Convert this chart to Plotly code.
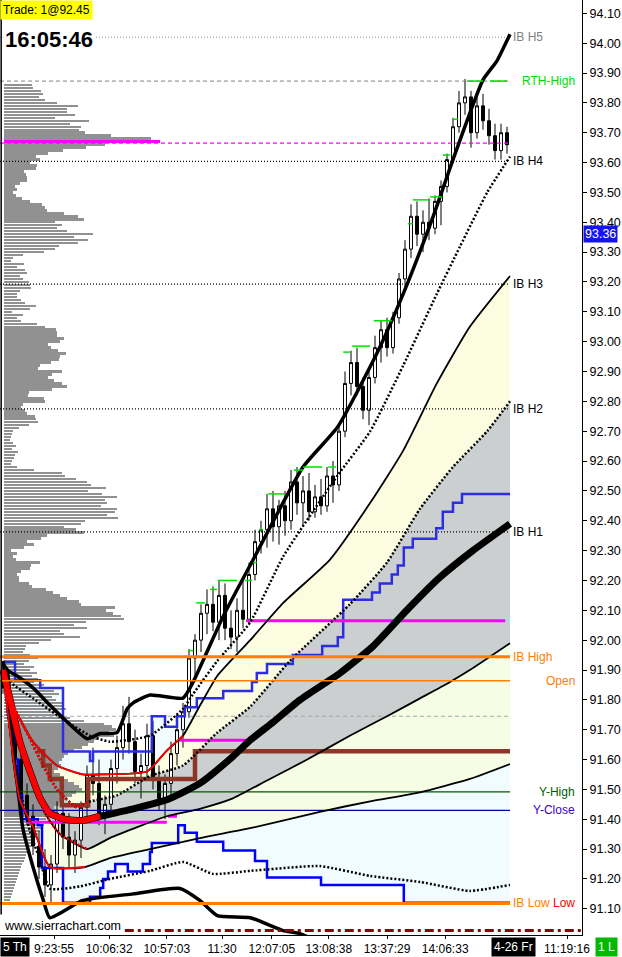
import plotly.graph_objects as go

#%% Candles (each candle = 2 chart bars), oldest first

OPEN = [91.90, 91.84, 91.74, 91.60, 91.48, 91.41, 91.31, 91.24, 91.18, 91.25,
        91.42, 91.34, 91.28, 91.33, 91.44, 91.55, 91.52, 91.42, 91.45, 91.57,
        91.64, 91.72, 91.66, 91.56, 91.58, 91.68, 91.53, 91.47, 91.52, 91.62,
        91.70, 91.76, 91.94, 92.00, 92.09, 92.12, 92.06, 92.15, 92.04, 92.01,
        92.10, 92.07, 92.22, 92.33, 92.37, 92.44, 92.38, 92.45, 92.40, 92.53,
        92.46, 92.50, 92.43, 92.48, 92.45, 92.55, 92.52, 92.70, 92.86, 92.93,
        92.85, 92.77, 92.88, 92.98, 93.04, 92.98, 93.08, 93.21, 93.31, 93.42,
        93.36, 93.40, 93.38, 93.47, 93.52, 93.61, 93.72, 93.80, 93.82, 93.70,
        93.79, 93.74, 93.69, 93.64, 93.70]
HIGH = [91.93, 91.86, 91.76, 91.63, 91.52, 91.45, 91.36, 91.30, 91.28, 91.46,
        91.50, 91.42, 91.36, 91.46, 91.58, 91.64, 91.60, 91.48, 91.60, 91.68,
        91.78, 91.81, 91.70, 91.62, 91.72, 91.73, 91.58, 91.55, 91.66, 91.74,
        91.79, 91.97, 92.02, 92.12, 92.17, 92.18, 92.20, 92.19, 92.10, 92.14,
        92.20, 92.26, 92.37, 92.40, 92.49, 92.50, 92.47, 92.50, 92.57, 92.58,
        92.55, 92.56, 92.52, 92.54, 92.58, 92.60, 92.72, 92.90, 92.97, 92.98,
        92.88, 92.90, 93.02, 93.07, 93.08, 93.10, 93.23, 93.34, 93.46, 93.47,
        93.44, 93.48, 93.49, 93.54, 93.63, 93.75, 93.84, 93.88, 93.84, 93.83,
        93.83, 93.78, 93.73, 93.73, 93.72]
LOW = [91.82, 91.72, 91.58, 91.46, 91.38, 91.28, 91.20, 91.14, 91.12, 91.22,
       91.30, 91.24, 91.22, 91.27, 91.40, 91.48, 91.38, 91.35, 91.42, 91.52,
       91.60, 91.62, 91.52, 91.47, 91.54, 91.50, 91.43, 91.40, 91.48, 91.58,
       91.64, 91.74, 91.86, 91.96, 92.02, 92.03, 92.00, 92.00, 91.97, 91.96,
       92.04, 92.05, 92.20, 92.29, 92.31, 92.33, 92.32, 92.35, 92.37, 92.42,
       92.38, 92.40, 92.41, 92.42, 92.43, 92.46, 92.50, 92.68, 92.82, 92.82,
       92.74, 92.72, 92.86, 92.93, 92.95, 92.96, 93.06, 93.18, 93.28, 93.32,
       93.30, 93.34, 93.36, 93.39, 93.50, 93.60, 93.70, 93.76, 93.65, 93.68,
       93.71, 93.66, 93.61, 93.61, 93.63]
CLOSE = [91.84, 91.74, 91.60, 91.48, 91.41, 91.31, 91.24, 91.18, 91.25, 91.42,
         91.34, 91.28, 91.33, 91.44, 91.55, 91.52, 91.42, 91.45, 91.57, 91.64,
         91.72, 91.66, 91.56, 91.58, 91.68, 91.53, 91.47, 91.52, 91.62, 91.70,
         91.76, 91.94, 92.00, 92.09, 92.12, 92.06, 92.15, 92.04, 92.01, 92.10,
         92.07, 92.22, 92.33, 92.37, 92.44, 92.38, 92.45, 92.40, 92.53, 92.46,
         92.50, 92.43, 92.48, 92.45, 92.55, 92.52, 92.70, 92.86, 92.93, 92.85,
         92.77, 92.88, 92.98, 93.04, 92.98, 93.08, 93.21, 93.31, 93.42, 93.36,
         93.40, 93.38, 93.47, 93.52, 93.61, 93.72, 93.80, 93.82, 93.70, 93.79,
         93.74, 93.69, 93.64, 93.70, 93.66]

#%% VWAP and std-dev bands (x in candle units)

V_X = [0.5, 1.7, 3.3, 5.0, 6.7, 8.3, 10.8, 13.8, 16.7, 22.2, 27.8, 33.3, 38.8, 41.7, 45.5,
       50.0, 56.7, 62.2, 67.8, 73.3, 78.8, 85.0]
V_Y = [91.90, 91.80, 91.66, 91.56, 91.47, 91.42, 91.40, 91.396, 91.41, 91.435, 91.465, 91.52,
       91.61, 91.665, 91.725, 91.80, 91.89, 91.98, 92.10, 92.21, 92.30, 92.39]

U1_X = [0.5, 2.2, 4.5, 7.2, 9.5, 12.8, 14.5, 19.5, 25.0, 30.5, 36.2, 41.7, 48.3, 58.3, 64.5,
        70.0, 75.5, 81.2, 85.0]
U1_Y = [91.90, 91.78, 91.69, 91.58, 91.50, 91.44, 91.457, 91.48, 91.545, 91.58, 91.69, 91.777,
        91.93, 92.12, 92.26, 92.44, 92.58, 92.70, 92.80]

U2_X = [0.5, 1.7, 5.5, 9.5, 13.8, 16.7, 24.5, 27.8, 30.5, 33.3, 36.2, 41.7, 47.2, 55.0, 61.7,
        67.2, 72.8, 78.3, 85.0]
U2_Y = [91.90, 91.80, 91.66, 91.58, 91.55, 91.55, 91.56, 91.63, 91.68, 91.78, 91.88, 92.00,
        92.125, 92.27, 92.46, 92.635, 92.86, 93.05, 93.22]

U3_X = [0.5, 1.7, 5.5, 11.2, 15.0, 18.3, 25.0, 30.5, 32.2, 36.2, 41.7, 47.2, 56.2, 61.7, 67.2,
        72.8, 76.7, 81.2, 85.0]
U3_Y = [91.91, 91.86, 91.805, 91.726, 91.68, 91.66, 91.68, 91.77, 91.82, 91.93, 92.06, 92.28,
        92.55, 92.70, 92.92, 93.16, 93.32, 93.50, 93.62]

U4_X = [0.5, 0.8, 3.3, 5.5, 8.3, 11.2, 14.5, 16.7, 19.5, 21.2, 22.2, 25.0, 30.5, 32.2, 37.2,
        42.2, 50.5, 56.3, 62.8, 67.2, 72.2, 75.5, 80.5, 82.8, 85.0]
U4_Y = [91.93, 91.906, 91.874, 91.84, 91.783, 91.726, 91.67, 91.687, 91.69, 91.77, 91.79,
        91.816, 91.806, 91.86, 92.08, 92.27, 92.58, 92.715, 92.96, 93.16, 93.42, 93.61, 93.877,
        93.94, 94.03]

L1_X = [0.5, 2.5, 5.0, 7.5, 10.0, 14.5, 18.3, 27.8, 33.3, 38.8, 44.5, 51.2, 58.3, 64.5, 70.0,
        75.0, 78.3, 85.0]
L1_Y = [91.90, 91.70, 91.55, 91.42, 91.35, 91.30, 91.337, 91.41, 91.435, 91.47, 91.53, 91.60,
        91.68, 91.745, 91.805, 91.86, 91.90, 91.99]

L2_X = [0.5, 3.3, 5.5, 8.3, 14.2, 18.3, 25.0, 33.3, 41.7, 53.3, 61.7, 70.0, 78.3, 85.0]
L2_Y = [91.90, 91.465, 91.375, 91.24, 91.24, 91.27, 91.30, 91.337, 91.37, 91.425, 91.46, 91.49,
        91.535, 91.585]

L3_X = [0.5, 1.7, 3.3, 5.0, 6.7, 8.3, 13.3, 18.3, 25.0, 30.5, 35.5, 41.7, 53.3, 61.7, 70.0,
        78.3, 85.0]
L3_Y = [91.90, 91.70, 91.50, 91.36, 91.26, 91.168, 91.175, 91.20, 91.227, 91.257, 91.217,
        91.227, 91.243, 91.21, 91.19, 91.16, 91.18]

L4_X = [0.5, 1.2, 1.7, 2.2, 3.0, 3.8, 5.5, 7.2, 8.3, 13.8, 22.2, 30.0, 33.3, 36.2, 41.7, 47.2,
        50.0, 55.0, 60.0]
L4_Y = [91.92, 91.90, 91.78, 91.62, 91.50, 91.37, 91.24, 91.13, 91.07, 91.128, 91.15, 91.168,
        91.128, 91.077, 91.07, 91.027, 91.017, 90.97, 90.92]

#%% Stepped lines

UB_X = [0.5, 2.5, 6.7, 10.5, 15.0, 15.5, 25.3, 27.5, 29.5, 30.8, 32.8, 37.2, 42.0, 42.8, 44.5,
        48.8, 53.7, 56.3, 57.2, 62.0, 63.3, 65.3, 66.3, 67.3, 68.8, 72.7, 73.8, 75.5, 77.0, 85.0]
UB_Y = [91.927, 91.866, 91.84, 91.627, 91.595, 91.627, 91.745, 91.71, 91.745, 91.775, 91.805,
        91.83, 91.86, 91.89, 91.92, 91.95, 91.98, 92.01, 92.135, 92.16, 92.19, 92.22, 92.25,
        92.31, 92.34, 92.375, 92.43, 92.46, 92.49, 92.49]

LB_X = [0.5, 1.3, 2.2, 3.0, 3.7, 6.3, 7.0, 10.5, 15.0, 16.7, 17.2, 18.0, 19.2, 21.3, 23.8, 25.0,
        25.3, 29.7, 30.8, 32.8, 37.2, 42.5, 44.5, 53.5, 67.3, 85.0]
LB_Y = [91.90, 91.75, 91.60, 91.48, 91.40, 91.38, 91.237, 91.12, 91.14, 91.17, 91.20, 91.225,
        91.25, 91.225, 91.25, 91.29, 91.32, 91.38, 91.355, 91.325, 91.295, 91.26, 91.205, 91.18,
        91.12, 91.12]

BROWN_X = [6.2, 7.2, 8.3, 10.3, 14.7, 32.5, 85.0]
BROWN_Y = [91.628, 91.58, 91.535, 91.447, 91.535, 91.628, 91.628]

# developing POC segments: (start, end, price)
MAGENTA_SEGS = [(4.5, 27.8, 91.39), (28.0, 29.5, 91.41), (29.7, 41.0, 91.665), (41.0, 84.2, 92.065)]

# new-high markers: (start, end, price)
NEW_HIGHS = [(31.5, 32.2, 91.965), (32.7, 34.2, 92.125), (35.0, 36.2, 92.17), (36.3, 39.5, 92.20),
             (40.8, 42.0, 92.20), (42.2, 42.8, 92.26), (43.2, 43.8, 92.37), (44.7, 47.5, 92.49),
             (49.0, 50.5, 92.57), (50.5, 53.7, 92.58), (54.7, 56.0, 92.58), (57.2, 58.3, 92.965),
             (58.7, 61.7, 92.985), (62.3, 65.3, 93.07), (68.0, 68.8, 93.395), (68.8, 71.7, 93.475),
             (71.7, 73.7, 93.485), (73.8, 75.0, 93.625), (75.5, 76.3, 93.745), (77.8, 80.5, 93.873),
             (81.7, 84.5, 93.873)]

#%% Key levels

LEVEL_NAMES = ["IB H5", "RTH-High", "POC", "IB H4", "IB H3", "IB H2", "IB H1",
               "IB High", "Open", "Mid", "Y-High", "Y-Close", "IB Low"]
LEVEL_PRICES = [94.02, 93.873, 93.665, 93.604, 93.193, 92.775, 92.363,
                91.944, 91.864, 91.745, 91.492, 91.430, 91.118]

#%% Volume profile (top row 93.86, one row per tick)

PROFILE_TOP = 93.86
PROFILE_TICK = 0.01
PROFILE_VOL = [
    28, 29, 37, 39, 35, 41, 53, 74, 63, 63, 71, 51, 85, 66, 77, 75, 81, 107, 147, 156,
    101, 82, 59, 44, 32, 36, 26, 33, 32, 20, 22, 23, 23, 16, 11, 13, 9, 12, 18, 26,
    38, 41, 43, 60, 74, 80, 51, 58, 53, 63, 89, 70, 84, 74, 55, 51, 40, 19, 9, 7,
    20, 13, 21, 23, 16, 19, 25, 26, 27, 16, 13, 13, 17, 21, 32, 26, 8, 19, 13, 17,
    33, 41, 52, 53, 53, 60, 56, 44, 47, 54, 62, 56, 55, 47, 36, 34, 58, 48, 44,
    50, 58, 63, 48, 25, 24, 40, 41, 19, 17, 21, 23, 31, 32, 34, 25, 15, 9, 8, 7,
    6, 9, 12, 8, 14, 11, 10, 8, 7, 13, 30, 58, 61, 72, 83, 87, 102, 84, 98, 113,
    101, 103, 97, 113, 111, 103, 114, 81, 77, 60, 72, 80, 43, 37, 23, 30, 20, 7, 13, 9,
    12, 36, 27, 26, 17, 13, 15, 15, 25, 28, 42, 49, 56, 63, 75, 77, 111, 102, 109, 117,
    120, 82, 70, 83, 56, 60, 76, 47, 35, 22, 21, 19, 26, 34, 25, 20,
    30, 26, 33, 28, 34, 30, 40, 45, 50, 55, 48, 52, 60, 58, 62, 55, 60, 66, 80, 100,
    108, 112, 105, 110, 95, 90, 84, 78, 70, 64, 60, 58, 55, 57, 54, 50, 56, 60, 64, 70,
    75, 78, 72, 68, 62, 58, 55, 50, 52, 48, 45, 42, 44, 40, 38, 36, 34, 32, 30, 28,
    27, 25, 24, 22, 21, 20, 18, 17, 16, 15, 14, 13, 12, 11, 10, 9, 8, 7, 6, 5]
POC_ROW = 19

TIME_TICKS = [9.0, 18.2, 27.8, 37.0, 45.3, 54.8, 64.5, 74.2, 94.5]
TIME_LABELS = ["9:23:55", "10:06:32", "10:57:03", "11:30", "12:07:05",
               "13:08:38", "13:37:29", "14:06:33", "11:19:16"]

Y_MIN, Y_MAX = 91.0122, 94.1446
FONT = "Liberation Sans"

fig = go.Figure()


def add_fill(xa, ya, xb, yb, color, shape="spline"):
    fig.add_trace(go.Scatter(x=xa, y=ya, mode="lines",
                             line=dict(width=0, shape=shape, smoothing=0.5),
                             xaxis="x", yaxis="y", hoverinfo="skip", showlegend=False))
    fig.add_trace(go.Scatter(x=xb, y=yb, mode="lines",
                             line=dict(width=0, shape=shape, smoothing=0.5),
                             fill="tonexty", fillcolor=color, xaxis="x", yaxis="y",
                             hoverinfo="skip", showlegend=False))


def add_line(xs, ys, color, width, dash="solid", shape="spline"):
    fig.add_trace(go.Scatter(x=xs, y=ys, mode="lines",
                             line=dict(color=color, width=width, dash=dash, shape=shape,
                                       smoothing=0.5),
                             xaxis="x3", yaxis="y", hoverinfo="skip", showlegend=False,
                             connectgaps=False))


def seg_xy(segs):
    xs, ys = [], []
    for x0, x1, p in segs:
        xs += [x0, x1, None]
        ys += [p, p, None]
    return xs, ys


#%% fills (bottom layer, axis x)
add_fill(UB_X, UB_Y, LB_X, LB_Y, "rgb(240,252,255)", shape="hv")
add_fill(U2_X, U2_Y, U1_X, U1_Y, "rgb(252,252,224)")
add_fill(U1_X, U1_Y, L1_X, L1_Y, "rgb(203,207,207)")
add_fill(L1_X, L1_Y, L2_X, L2_Y, "rgb(247,252,228)")

#%% volume profile (axis x2, drawn over fills)
profile_prices = [round(PROFILE_TOP - PROFILE_TICK * i, 2) for i in range(len(PROFILE_VOL))]
profile_colors = ["rgb(145,145,145)"] * len(PROFILE_VOL)
profile_colors[POC_ROW] = "rgb(255,0,255)"
fig.add_trace(go.Bar(x=PROFILE_VOL, y=profile_prices, orientation="h", width=0.0082,
                     marker=dict(color=profile_colors, line=dict(width=0)),
                     xaxis="x2", yaxis="y", hoverinfo="skip", showlegend=False))

#%% level lines
level_style = {
    "IB H5": ("rgb(140,140,140)", 1, "1px,2px"),
    "RTH-High": ("rgb(130,130,130)", 1, "4px,3px"),
    "POC": ("rgb(255,0,255)", 1.2, "4px,3px"),
    "IB H4": ("black", 1.2, "1px,2px"),
    "IB H3": ("black", 1.2, "1px,2px"),
    "IB H2": ("black", 1.2, "1px,2px"),
    "IB H1": ("black", 1.2, "1px,2px"),
    "Mid": ("rgb(165,165,165)", 1, "4px,3px"),
    "Y-High": ("rgb(0,90,0)", 1.2, "solid"),
    "Y-Close": ("rgb(0,0,170)", 1.2, "solid"),
}
for name, price in zip(LEVEL_NAMES, LEVEL_PRICES):
    if name in level_style:
        c, w, d = level_style[name]
        add_line([0, 85.0], [price, price], c, w, d, shape="linear")

#%% stepped lines
add_line(LB_X, LB_Y, "rgb(0,0,255)", 2.5, shape="hv")
add_line(UB_X, UB_Y, "rgb(45,45,225)", 2.5, shape="hv")
add_line(BROWN_X, BROWN_Y, "rgb(140,55,40)", 4.5, shape="hv")
mx, my = seg_xy(MAGENTA_SEGS)
add_line(mx, my, "rgb(255,0,255)", 3, shape="linear")

#%% bands
add_line(L4_X, L4_Y, "black", 3.5)
add_line(L3_X, L3_Y, "black", 2.5, "2px,2px")
add_line(L2_X, L2_Y, "black", 1.8)
add_line(L1_X, L1_Y, "black", 1.8)
add_line(U1_X, U1_Y, "black", 2.5, "2px,2px")
add_line(U2_X, U2_Y, "black", 1.8)
add_line(U3_X, U3_Y, "black", 2.5, "2px,2px")
add_line(U4_X, U4_Y, "black", 3.5)
add_line(V_X, V_Y, "black", 7)
# early part of the session drawn red
add_line(L2_X[:5], L2_Y[:5], "rgb(255,0,0)", 1.8)
add_line(L1_X[:6], L1_Y[:6], "rgb(255,0,0)", 2.5, "2px,2px")
add_line(U1_X[:7], U1_Y[:7], "rgb(255,0,0)", 2.5, "2px,2px")
add_line(U2_X[:9], U2_Y[:9], "rgb(255,0,0)", 1.8)
add_line(V_X[:9], V_Y[:9], "rgb(255,0,0)", 6)

#%% candles
fig.add_trace(go.Candlestick(
    x=[i + 0.5 for i in range(len(CLOSE))], open=OPEN, high=HIGH, low=LOW, close=CLOSE,
    increasing=dict(line=dict(color="black", width=1), fillcolor="white"),
    decreasing=dict(line=dict(color="black", width=1), fillcolor="black"),
    whiskerwidth=0, xaxis="x3", yaxis="y", hoverinfo="skip", showlegend=False))

gx, gy = seg_xy(NEW_HIGHS)
add_line(gx, gy, "rgb(0,225,0)", 1.5, shape="linear")

# orange IB / open lines on top
for name, price in zip(LEVEL_NAMES, LEVEL_PRICES):
    if name in ("IB High", "IB Low"):
        add_line([0, 85.0], [price, price], "rgb(255,128,0)", 3, shape="linear")
    elif name == "Open":
        add_line([0, 85.0], [price, price], "rgb(255,128,0)", 1.5, shape="linear")

add_line([20.8, 97], [91.027, 91.027], "rgb(128,10,10)", 3, "9px,4px,3px,4px", shape="linear")

#%% labels on the right
right_labels = [
    ("IB H5", 94.02, "rgb(128,128,128)", "left"),
    ("RTH-High", 93.873, "rgb(0,220,0)", "right"),
    ("IB H4", 93.604, "black", "left"),
    ("IB H3", 93.193, "black", "left"),
    ("IB H2", 92.775, "black", "left"),
    ("IB H1", 92.363, "black", "left"),
    ("IB High", 91.944, "rgb(255,128,0)", "left"),
    ("Open", 91.864, "rgb(255,128,0)", "right"),
    ("Y-High", 91.492, "rgb(0,96,0)", "right"),
    ("Y-Close", 91.430, "rgb(60,0,200)", "right"),
    ("IB Low", 91.118, "rgb(255,128,0)", "left"),
    ("Low", 91.118, "rgb(255,0,0)", "right"),
]
for text, price, color, anchor in right_labels:
    fig.add_annotation(x=85.2 if anchor == "left" else 96.2, y=price, xref="x3", yref="y",
                       text=text, showarrow=False, xanchor=anchor, yanchor="middle",
                       font=dict(family=FONT, size=12, color=color))

fig.add_annotation(x=0, y=1, xref="paper", yref="paper", xanchor="left", yanchor="top",
                   text="Trade: 1@92.45", showarrow=False, bgcolor="rgb(255,255,0)",
                   borderpad=2, font=dict(family=FONT, size=12, color="black"))
fig.add_annotation(x=0.006, y=1 - 39 / 935, xref="paper", yref="paper", xanchor="left",
                   yanchor="middle", text="<b>16:05:46</b>", showarrow=False, bgcolor="white",
                   borderpad=1, font=dict(family=FONT, size=22, color="black"))
fig.add_annotation(x=1, y=93.36, xref="paper", yref="y", xanchor="left", yanchor="middle",
                   xshift=1, text="93.36", showarrow=False, bgcolor="rgb(20,20,235)",
                   borderpad=1, font=dict(family=FONT, size=12.5, color="white"))
fig.add_annotation(x=0.004, y=1 - 926 / 935, xref="paper", yref="paper", xanchor="left",
                   yanchor="middle", text="www.sierrachart.com", showarrow=False,
                   font=dict(family=FONT, size=12.5, color="black"))
for text, xpos, bg in [("5 Th", 0, "black"), ("4-26 Fr", 491 / 582, "black"),
                       ("1 L", 595 / 582, "rgb(0,185,0)")]:
    fig.add_annotation(x=xpos, y=-12 / 935, xref="paper", yref="paper", xanchor="left",
                       yanchor="middle", text=text, showarrow=False, bgcolor=bg, borderpad=2,
                       font=dict(family=FONT, size=12, color="white"))

# left border of the chart
fig.add_shape(type="line", xref="paper", yref="paper", x0=0.002, x1=0.002, y0=0.022, y1=1,
              line=dict(color="black", width=1.5))

fig.update_layout(
    width=622, height=957,
    margin=dict(l=0, r=40, t=0, b=22),
    paper_bgcolor="white", plot_bgcolor="white",
    showlegend=False, bargap=0,
    xaxis=dict(range=[0, 97], visible=False, anchor="y"),
    xaxis2=dict(range=[-4, 578], visible=False, overlaying="x", anchor="y"),
    xaxis3=dict(range=[0, 97], overlaying="x", anchor="y", side="bottom",
                tickvals=TIME_TICKS, ticktext=TIME_LABELS, showgrid=False, zeroline=False,
                ticks="outside", ticklen=3, tickcolor="black", showline=True,
                linecolor="black", linewidth=1,
                tickfont=dict(family=FONT, size=12, color="black"),
                rangeslider=dict(visible=False)),
    yaxis=dict(range=[Y_MIN, Y_MAX], side="right", anchor="x", dtick=0.1, tick0=91.1,
               tickformat=".2f", showgrid=False, zeroline=False, ticks="outside", ticklen=4,
               tickcolor="black", showline=True, linecolor="black", linewidth=1,
               tickfont=dict(family=FONT, size=12.5, color="black")),
)

# page body has a default margin; drop it so the chart sits at the window corner
fig.write_html("out.html", config={"displayModeBar": False},
               post_script="document.body.style.margin='0';")
